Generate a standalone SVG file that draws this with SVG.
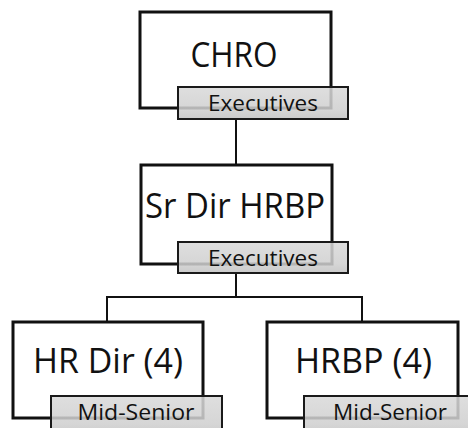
<svg xmlns="http://www.w3.org/2000/svg" width="468" height="428" viewBox="0 0 468 428">
  <defs>
    <linearGradient id="tagFill" x1="0" y1="0" x2="0" y2="1">
      <stop offset="0" stop-color="#d9d9d9"/>
      <stop offset="0.7" stop-color="#cfcfcf"/>
      <stop offset="1" stop-color="#c2c2c2"/>
    </linearGradient>
  </defs>
  <style>
    .box { fill: #ffffff; stroke: #111111; stroke-width: 3; }
    .tag { fill: url(#tagFill); fill-opacity: 0.86; stroke: #1a1a1a; stroke-width: 2; }
    .title { font-family: "Open Sans", "Liberation Sans", sans-serif; font-size: 34px; fill: #111111; text-anchor: middle; }
    .level { font-family: "Open Sans", "Liberation Sans", sans-serif; font-size: 22px; fill: #111111; text-anchor: middle; }
    .link { fill: none; stroke: #111111; stroke-width: 2; }
  </style>

  <rect width="468" height="428" fill="#ffffff"/>

  <!-- reporting lines -->
  <g id="connectors">
    <line class="link" x1="236" y1="119" x2="236" y2="165"/>
    <polyline class="link" points="236,273 236,297"/>
    <polyline class="link" points="107,322 107,297 362,297 362,322"/>
  </g>

  <!-- CHRO -->
  <g id="node-chro">
    <rect class="box" x="140" y="12" width="191" height="96"/>
    <text class="title" x="234" y="67" textLength="87" lengthAdjust="spacingAndGlyphs">CHRO</text>
    <rect class="tag" x="178" y="87" width="170" height="32"/>
    <text class="level" x="263" y="111" textLength="110" lengthAdjust="spacingAndGlyphs">Executives</text>
  </g>

  <!-- Sr Dir HRBP -->
  <g id="node-srdir">
    <rect class="box" x="141" y="165" width="191" height="99"/>
    <text class="title" x="235" y="218" textLength="180" lengthAdjust="spacingAndGlyphs">Sr Dir HRBP</text>
    <rect class="tag" x="178" y="242" width="170" height="31"/>
    <text class="level" x="263" y="266" textLength="110" lengthAdjust="spacingAndGlyphs">Executives</text>
  </g>

  <!-- HR Dir -->
  <g id="node-hrdir">
    <rect class="box" x="13" y="322" width="190" height="96"/>
    <text class="title" x="108" y="373" textLength="150" lengthAdjust="spacingAndGlyphs">HR Dir (4)</text>
    <rect class="tag" x="51" y="396" width="171" height="40"/>
    <text class="level" x="136" y="420" textLength="117" lengthAdjust="spacingAndGlyphs">Mid-Senior</text>
  </g>

  <!-- HRBP -->
  <g id="node-hrbp">
    <rect class="box" x="267" y="322" width="191" height="96"/>
    <text class="title" x="363.5" y="373" textLength="137" lengthAdjust="spacingAndGlyphs">HRBP (4)</text>
    <rect class="tag" x="304" y="396" width="172" height="40"/>
    <text class="level" x="390" y="420" textLength="114" lengthAdjust="spacingAndGlyphs">Mid-Senior</text>
  </g>
</svg>
